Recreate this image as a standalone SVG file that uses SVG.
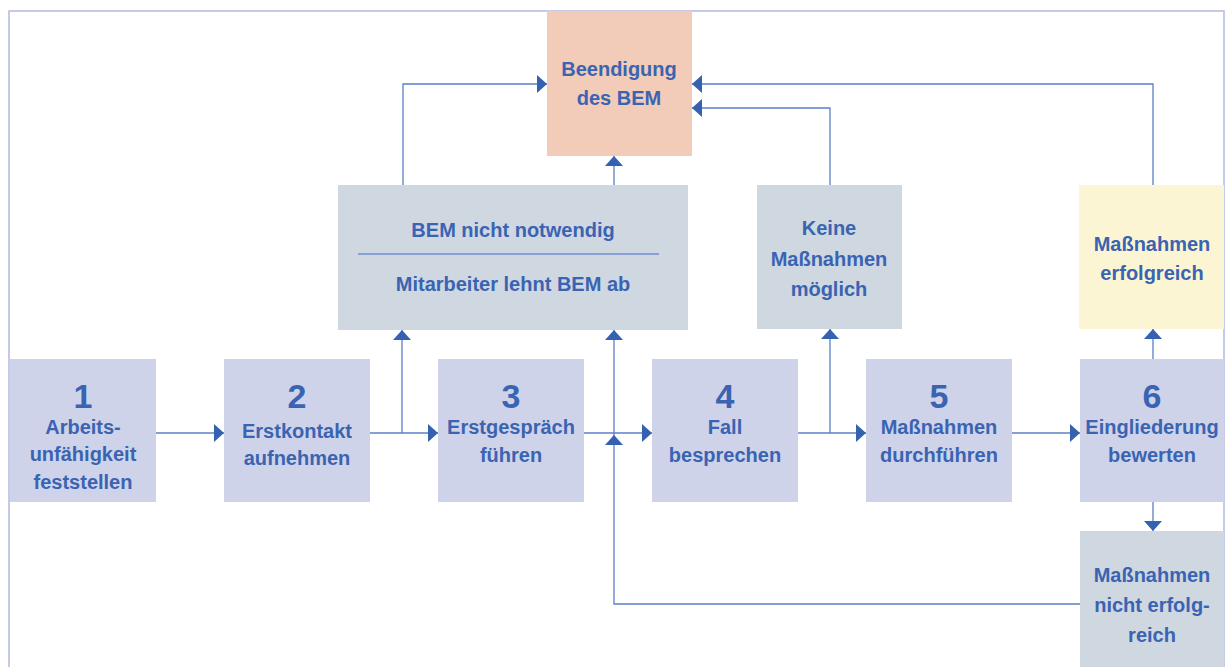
<svg xmlns="http://www.w3.org/2000/svg" width="1229" height="667" viewBox="0 0 1229 667">
  <defs>
    <marker id="arr" markerUnits="userSpaceOnUse" markerWidth="10" markerHeight="18" refX="10" refY="9" orient="auto">
      <path d="M0,0 L10,9 L0,18 Z" fill="#3462b0"/>
    </marker>
    <style>
      .step { fill: #cfd3ea; }
      .grey { fill: #cfd7e1; }
      .end { fill: #f2cbb9; }
      .ok { fill: #fcf5d4; }
      text { font-family: "Liberation Sans", Arial, sans-serif; font-weight: bold; font-size: 20px; fill: #3a64b2; text-anchor: middle; }
      text.num { font-size: 34px; }
      .conn path { fill: none; stroke: #5b7fc6; stroke-width: 1.3; }
      .frame { fill: none; stroke: #b3bbe0; stroke-width: 1.5; }
    </style>
  </defs>
  <rect width="1229" height="667" fill="#ffffff"/>
  <path class="frame" d="M9,667 V11 H1224 V667"/>

  <g id="end">
    <rect class="end" x="547" y="11" width="145" height="145"/>
    <text x="619" y="76">Beendigung</text>
    <text x="619" y="105">des BEM</text>
  </g>

  <g id="notneeded">
    <rect class="grey" x="338" y="185" width="350" height="145"/>
    <line x1="358" y1="254" x2="659" y2="254" stroke="#6f8fcf" stroke-width="1.3"/>
    <text x="513" y="237">BEM nicht notwendig</text>
    <text x="513" y="291">Mitarbeiter lehnt BEM ab</text>
  </g>

  <g id="nomeasures">
    <rect class="grey" x="757" y="185" width="145" height="144"/>
    <text x="829" y="235">Keine</text>
    <text x="829" y="266">Maßnahmen</text>
    <text x="829" y="296">möglich</text>
  </g>

  <g id="success">
    <rect class="ok" x="1079" y="185" width="145" height="144"/>
    <text x="1152" y="251">Maßnahmen</text>
    <text x="1152" y="280">erfolgreich</text>
  </g>

  <g id="step1">
    <rect class="step" x="10" y="359" width="146" height="143"/>
    <text class="num" x="83" y="408">1</text>
    <text x="83" y="434">Arbeits-</text>
    <text x="83" y="461">unfähigkeit</text>
    <text x="83" y="489">feststellen</text>
  </g>

  <g id="step2">
    <rect class="step" x="224" y="359" width="146" height="143"/>
    <text class="num" x="297" y="408">2</text>
    <text x="297" y="438">Erstkontakt</text>
    <text x="297" y="465">aufnehmen</text>
  </g>

  <g id="step3">
    <rect class="step" x="438" y="359" width="146" height="143"/>
    <text class="num" x="511" y="408">3</text>
    <text x="511" y="434">Erstgespräch</text>
    <text x="511" y="462">führen</text>
  </g>

  <g id="step4">
    <rect class="step" x="652" y="359" width="146" height="143"/>
    <text class="num" x="725" y="408">4</text>
    <text x="725" y="434">Fall</text>
    <text x="725" y="462">besprechen</text>
  </g>

  <g id="step5">
    <rect class="step" x="866" y="359" width="146" height="143"/>
    <text class="num" x="939" y="408">5</text>
    <text x="939" y="434">Maßnahmen</text>
    <text x="939" y="462">durchführen</text>
  </g>

  <g id="step6">
    <rect class="step" x="1080" y="359" width="144" height="143"/>
    <text class="num" x="1152" y="408">6</text>
    <text x="1152" y="434">Eingliederung</text>
    <text x="1152" y="462">bewerten</text>
  </g>

  <g id="failure">
    <rect class="grey" x="1080" y="531" width="144" height="136"/>
    <text x="1152" y="582">Maßnahmen</text>
    <text x="1152" y="612">nicht erfolg-</text>
    <text x="1152" y="642">reich</text>
  </g>

  <g class="conn" id="connectors">
    <path d="M156,433 H224" marker-end="url(#arr)"/>
    <path d="M370,433 H438" marker-end="url(#arr)"/>
    <path d="M402,433 V330" marker-end="url(#arr)"/>
    <path d="M584,433 H652" marker-end="url(#arr)"/>
    <path d="M1080,604 H614 V435" marker-end="url(#arr)"/>
    <path d="M614,435 V330" marker-end="url(#arr)"/>
    <path d="M798,433 H866" marker-end="url(#arr)"/>
    <path d="M830,433 V329" marker-end="url(#arr)"/>
    <path d="M1012,433 H1080" marker-end="url(#arr)"/>
    <path d="M1153,359 V329" marker-end="url(#arr)"/>
    <path d="M1153,502 V531" marker-end="url(#arr)"/>
    <path d="M403,185 V84 H547" marker-end="url(#arr)"/>
    <path d="M614,185 V156" marker-end="url(#arr)"/>
    <path d="M830,185 V108 H692" marker-end="url(#arr)"/>
    <path d="M1153,185 V84 H692" marker-end="url(#arr)"/>
  </g>
</svg>
